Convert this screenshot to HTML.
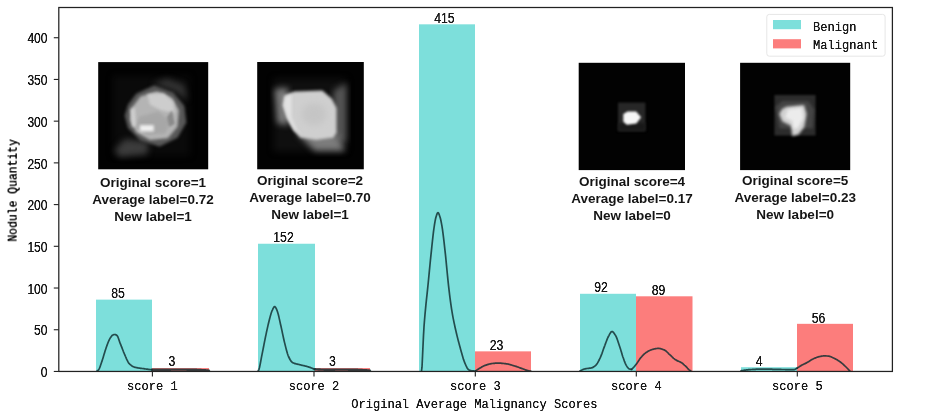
<!DOCTYPE html>
<html lang="en"><head><meta charset="utf-8"><title>Nodule Quantity by Original Average Malignancy Scores</title>
<style>html,body{margin:0;padding:0;background:#fff;overflow:hidden}svg{display:block}.m{font-family:"Liberation Mono",monospace;font-size:13.5px;fill:#1a1a1a}.d{font-family:"Liberation Sans",sans-serif;font-size:14px;fill:#1a1a1a}.c{font-family:"Liberation Sans",sans-serif;font-size:13.5px;font-weight:bold;fill:#151515;text-anchor:middle}</style></head><body>
<svg width="938" height="415" viewBox="0 0 938 415">
<defs><filter id="b1" color-interpolation-filters="sRGB" x="-30%" y="-30%" width="160%" height="160%"><feGaussianBlur stdDeviation="1.6"/></filter><filter id="b2" color-interpolation-filters="sRGB" x="-30%" y="-30%" width="160%" height="160%"><feGaussianBlur stdDeviation="3"/></filter><filter id="b3" color-interpolation-filters="sRGB" x="-30%" y="-30%" width="160%" height="160%"><feGaussianBlur stdDeviation="0.9"/></filter><filter id="fb" x="-5%" y="-25%" width="110%" height="150%" color-interpolation-filters="sRGB"><feGaussianBlur stdDeviation="0.5"/><feComponentTransfer><feFuncA type="linear" slope="2.4" intercept="-0.15"/></feComponentTransfer></filter><filter id="fd" x="-10%" y="-25%" width="120%" height="150%" color-interpolation-filters="sRGB"><feGaussianBlur stdDeviation="0.3"/><feComponentTransfer><feFuncA type="linear" slope="1.6" intercept="-0.03"/></feComponentTransfer></filter></defs>
<rect width="938" height="415" fill="#fff"/>
<rect x="96.00" y="299.63" width="56.00" height="71.82" fill="#7ddfdb"/>
<rect x="152.00" y="368.05" width="57.00" height="3.40" fill="#fc7d7c"/>
<rect x="258.00" y="243.74" width="57.00" height="127.71" fill="#7ddfdb"/>
<rect x="315.00" y="368.05" width="55.00" height="3.40" fill="#fc7d7c"/>
<rect x="419.00" y="24.32" width="56.00" height="347.13" fill="#7ddfdb"/>
<rect x="475.00" y="351.36" width="56.00" height="20.09" fill="#fc7d7c"/>
<rect x="580.00" y="293.79" width="56.00" height="77.66" fill="#7ddfdb"/>
<rect x="636.00" y="296.30" width="56.50" height="75.15" fill="#fc7d7c"/>
<rect x="741.00" y="367.21" width="56.00" height="4.24" fill="#7ddfdb"/>
<rect x="797.00" y="323.83" width="56.00" height="47.62" fill="#fc7d7c"/>
<path d="M97.0 371.0L97.5 370.8L98.0 370.4L98.5 369.9L99.0 369.1L99.5 368.1L100.0 366.9L100.5 365.5L101.0 364.0L101.5 362.5L102.0 361.1L102.5 359.6L103.0 358.0L103.5 356.3L104.0 354.6L104.5 352.9L105.0 351.2L105.5 349.7L106.0 348.2L106.5 346.8L107.0 345.4L107.5 344.0L108.0 342.7L108.5 341.5L109.0 340.3L109.5 339.3L110.0 338.4L110.5 337.6L111.0 336.9L111.5 336.2L112.0 335.6L112.5 335.3L113.0 335.0L113.5 334.8L114.0 334.6L114.5 334.5L115.0 334.5L115.5 334.6L116.0 334.9L116.5 335.1L117.0 335.5L117.5 336.2L118.0 337.2L118.5 338.5L119.0 340.0L119.5 341.5L120.0 342.9L120.5 344.1L121.0 345.4L121.5 346.7L122.0 347.9L122.5 349.2L123.0 350.5L123.5 351.8L124.0 353.0L124.5 354.2L125.0 355.3L125.5 356.5L126.0 357.6L126.5 358.8L127.0 359.9L127.5 360.9L128.0 361.9L128.5 362.7L129.0 363.4L129.5 363.9L130.0 364.4L130.5 364.8L131.0 365.2L131.5 365.6L132.0 366.0L132.5 366.3L133.0 366.6L133.5 366.8L134.0 367.0L134.5 367.2L135.0 367.3L135.5 367.4L136.0 367.5L136.5 367.7L137.0 367.7L137.5 367.8L138.0 367.9L138.5 368.0L139.0 368.1L139.5 368.1L140.0 368.2L140.5 368.3L141.0 368.3L141.5 368.4L142.0 368.5L142.5 368.5L143.0 368.6L143.5 368.7L144.0 368.7L144.5 368.8L145.0 368.9L145.5 369.0L146.0 369.0L146.5 369.1L147.0 369.2L147.5 369.2L148.0 369.3L148.5 369.4L149.0 369.4L149.5 369.5L150.0 369.6L150.5 369.6L151.0 369.7L151.5 369.7L152.0 369.8" fill="none" stroke="rgba(18,48,50,0.84)" stroke-width="1.7" stroke-linejoin="round" stroke-linecap="round"/>
<path d="M152.0 369.8L152.5 369.8L153.0 369.8L153.5 369.8L154.0 369.8L154.5 369.8L155.0 369.8L155.5 369.8L156.0 369.8L156.5 369.8L157.0 369.8L157.5 369.8L158.0 369.8L158.5 369.7L159.0 369.7L159.5 369.7L160.0 369.7L160.5 369.7L161.0 369.7L161.5 369.7L162.0 369.7L162.5 369.7L163.0 369.7L163.5 369.7L164.0 369.7L164.5 369.7L165.0 369.7L165.5 369.7L166.0 369.7L166.5 369.7L167.0 369.7L167.5 369.7L168.0 369.7L168.5 369.7L169.0 369.7L169.5 369.7L170.0 369.7L170.5 369.7L171.0 369.6L171.5 369.6L172.0 369.6L172.5 369.6L173.0 369.6L173.5 369.6L174.0 369.6L174.5 369.6L175.0 369.6L175.5 369.6L176.0 369.6L176.5 369.6L177.0 369.6L177.5 369.6L178.0 369.6L178.5 369.6L179.0 369.6L179.5 369.6L180.0 369.6L180.5 369.6L181.0 369.6L181.5 369.6L182.0 369.6L182.5 369.6L183.0 369.6L183.5 369.6L184.0 369.6L184.5 369.6L185.0 369.6L185.5 369.6L186.0 369.6L186.5 369.6L187.0 369.7L187.5 369.7L188.0 369.7L188.5 369.7L189.0 369.7L189.5 369.7L190.0 369.7L190.5 369.7L191.0 369.7L191.5 369.7L192.0 369.7L192.5 369.7L193.0 369.8L193.5 369.8L194.0 369.8L194.5 369.8L195.0 369.8L195.5 369.8L196.0 369.8L196.5 369.8L197.0 369.9L197.5 369.9L198.0 369.9L198.5 369.9L199.0 369.9L199.5 370.0L200.0 370.0L200.5 370.0L201.0 370.0L201.5 370.1L202.0 370.1L202.5 370.1L203.0 370.2L203.5 370.2L204.0 370.2L204.5 370.3L205.0 370.3L205.5 370.3L206.0 370.4L206.5 370.4L207.0 370.4L207.5 370.5L208.0 370.5L208.5 370.6L209.0 370.6" fill="none" stroke="rgba(18,48,50,0.84)" stroke-width="2.4" stroke-linejoin="round" stroke-linecap="round"/>
<path d="M258.0 371.0L258.5 370.4L259.0 369.3L259.5 367.5L260.0 365.1L260.5 362.5L261.0 359.8L261.5 357.2L262.0 354.7L262.5 352.2L263.0 349.6L263.5 347.0L264.0 344.4L264.5 341.8L265.0 339.3L265.5 336.9L266.0 334.6L266.5 332.2L267.0 329.9L267.5 327.6L268.0 325.4L268.5 323.3L269.0 321.3L269.5 319.3L270.0 317.4L270.5 315.5L271.0 313.8L271.5 312.2L272.0 310.8L272.5 309.8L273.0 308.7L273.5 307.8L274.0 307.0L274.5 306.6L275.0 306.7L275.5 307.3L276.0 308.1L276.5 309.2L277.0 310.4L277.5 311.7L278.0 313.4L278.5 315.3L279.0 317.4L279.5 319.6L280.0 321.9L280.5 324.2L281.0 326.3L281.5 328.6L282.0 330.9L282.5 333.3L283.0 335.7L283.5 338.0L284.0 340.3L284.5 342.4L285.0 344.4L285.5 346.4L286.0 348.4L286.5 350.3L287.0 352.1L287.5 353.8L288.0 355.2L288.5 356.5L289.0 357.5L289.5 358.5L290.0 359.5L290.5 360.3L291.0 361.1L291.5 361.7L292.0 362.2L292.5 362.6L293.0 362.8L293.5 363.0L294.0 363.2L294.5 363.4L295.0 363.6L295.5 363.7L296.0 363.8L296.5 364.0L297.0 364.1L297.5 364.2L298.0 364.3L298.5 364.4L299.0 364.5L299.5 364.6L300.0 364.8L300.5 364.9L301.0 365.0L301.5 365.2L302.0 365.3L302.5 365.4L303.0 365.5L303.5 365.6L304.0 365.7L304.5 365.8L305.0 366.0L305.5 366.1L306.0 366.2L306.5 366.3L307.0 366.5L307.5 366.6L308.0 366.8L308.5 366.9L309.0 367.1L309.5 367.3L310.0 367.4L310.5 367.6L311.0 367.8L311.5 368.0L312.0 368.2L312.5 368.4L313.0 368.6L313.5 368.8L314.0 369.0L314.5 369.3L314.6 369.3" fill="none" stroke="rgba(18,48,50,0.84)" stroke-width="1.7" stroke-linejoin="round" stroke-linecap="round"/>
<path d="M314.6 369.3L315.1 369.3L315.6 369.3L316.1 369.4L316.6 369.4L317.1 369.4L317.6 369.4L318.1 369.5L318.6 369.5L319.1 369.5L319.6 369.5L320.1 369.5L320.6 369.6L321.1 369.6L321.6 369.6L322.1 369.6L322.6 369.6L323.1 369.6L323.6 369.6L324.1 369.7L324.6 369.7L325.1 369.7L325.6 369.7L326.1 369.7L326.6 369.7L327.1 369.7L327.6 369.7L328.1 369.7L328.6 369.7L329.1 369.7L329.6 369.7L330.1 369.7L330.6 369.7L331.1 369.7L331.6 369.7L332.1 369.7L332.6 369.7L333.1 369.7L333.6 369.7L334.1 369.7L334.6 369.7L335.1 369.6L335.6 369.6L336.1 369.6L336.6 369.6L337.1 369.6L337.6 369.6L338.1 369.6L338.6 369.6L339.1 369.6L339.6 369.6L340.1 369.6L340.6 369.6L341.1 369.6L341.6 369.6L342.1 369.6L342.6 369.6L343.1 369.6L343.6 369.6L344.1 369.6L344.6 369.6L345.1 369.6L345.6 369.6L346.1 369.6L346.6 369.6L347.1 369.6L347.6 369.6L348.1 369.6L348.6 369.7L349.1 369.7L349.6 369.7L350.1 369.7L350.6 369.7L351.1 369.7L351.6 369.7L352.1 369.7L352.6 369.7L353.1 369.7L353.6 369.7L354.1 369.8L354.6 369.8L355.1 369.8L355.6 369.8L356.1 369.8L356.6 369.8L357.1 369.8L357.6 369.8L358.1 369.9L358.6 369.9L359.1 369.9L359.6 369.9L360.1 369.9L360.6 370.0L361.1 370.0L361.6 370.0L362.1 370.0L362.6 370.1L363.1 370.1L363.6 370.1L364.1 370.2L364.6 370.2L365.1 370.2L365.6 370.3L366.1 370.3L366.6 370.3L367.1 370.4L367.6 370.4L368.1 370.5L368.6 370.5L369.1 370.5L369.6 370.6L370.0 370.6" fill="none" stroke="rgba(18,48,50,0.84)" stroke-width="2.4" stroke-linejoin="round" stroke-linecap="round"/>
<path d="M421.5 371.0L422.0 367.2L422.5 356.8L423.0 345.9L423.5 335.4L424.0 326.8L424.5 320.2L425.0 314.4L425.5 309.1L426.0 303.9L426.5 299.2L427.0 294.6L427.5 289.9L428.0 285.0L428.5 280.0L429.0 274.8L429.5 269.6L430.0 264.5L430.5 259.4L431.0 254.6L431.5 249.8L432.0 245.0L432.5 240.3L433.0 235.8L433.5 231.6L434.0 228.0L434.5 224.7L435.0 221.6L435.5 219.0L436.0 217.0L436.5 215.4L437.0 214.0L437.5 213.0L438.0 212.6L438.5 213.0L439.0 214.1L439.5 215.5L440.0 217.0L440.5 218.8L441.0 221.0L441.5 223.6L442.0 226.4L442.5 229.6L443.0 233.3L443.5 237.4L444.0 241.7L444.5 246.1L445.0 250.6L445.5 255.2L446.0 260.2L446.5 265.3L447.0 270.5L447.5 275.7L448.0 280.7L448.5 285.4L449.0 289.7L449.5 293.8L450.0 297.8L450.5 301.6L451.0 305.2L451.5 308.6L452.0 311.7L452.5 314.6L453.0 317.3L453.5 319.9L454.0 322.3L454.5 324.7L455.0 327.0L455.5 329.2L456.0 331.4L456.5 333.5L457.0 335.6L457.5 337.6L458.0 339.6L458.5 341.5L459.0 343.4L459.5 345.3L460.0 347.1L460.5 348.9L461.0 350.7L461.5 352.5L462.0 354.3L462.5 356.1L463.0 357.8L463.5 359.4L464.0 360.8L464.5 362.2L465.0 363.3L465.5 364.5L466.0 365.7L466.5 366.7L467.0 367.7L467.5 368.5L468.0 369.2L468.5 369.6L469.0 369.9L469.5 370.2L470.0 370.4L470.5 370.6L471.0 370.7L471.5 370.8L472.0 370.8L472.5 370.9L473.0 370.9L473.5 370.9L474.0 371.0L474.5 371.0L475.0 371.0L475.5 371.0L475.6 371.0" fill="none" stroke="rgba(18,48,50,0.84)" stroke-width="1.7" stroke-linejoin="round" stroke-linecap="round"/>
<path d="M475.6 371.0L476.1 370.6L476.6 370.3L477.1 369.9L477.6 369.5L478.1 369.2L478.6 368.9L479.1 368.6L479.6 368.3L480.1 368.0L480.6 367.7L481.1 367.4L481.6 367.1L482.1 366.8L482.6 366.6L483.1 366.3L483.6 366.0L484.1 365.8L484.6 365.6L485.1 365.4L485.6 365.2L486.1 365.1L486.6 364.9L487.1 364.7L487.6 364.6L488.1 364.4L488.6 364.3L489.1 364.1L489.6 364.0L490.1 363.9L490.6 363.8L491.1 363.7L491.6 363.6L492.1 363.5L492.6 363.5L493.1 363.4L493.6 363.4L494.1 363.3L494.6 363.3L495.1 363.2L495.6 363.2L496.1 363.2L496.6 363.1L497.1 363.1L497.6 363.1L498.1 363.1L498.6 363.1L499.1 363.1L499.6 363.1L500.1 363.2L500.6 363.2L501.1 363.2L501.6 363.3L502.1 363.3L502.6 363.4L503.1 363.4L503.6 363.5L504.1 363.5L504.6 363.6L505.1 363.6L505.6 363.7L506.1 363.8L506.6 363.8L507.1 363.9L507.6 364.0L508.1 364.1L508.6 364.2L509.1 364.3L509.6 364.5L510.1 364.6L510.6 364.8L511.1 364.9L511.6 365.0L512.1 365.2L512.6 365.4L513.1 365.5L513.6 365.7L514.1 365.8L514.6 366.0L515.1 366.1L515.6 366.3L516.1 366.4L516.6 366.6L517.1 366.8L517.6 367.0L518.1 367.1L518.6 367.3L519.1 367.5L519.6 367.7L520.1 367.9L520.6 368.1L521.1 368.2L521.6 368.4L522.1 368.6L522.6 368.8L523.1 369.0L523.6 369.1L524.1 369.3L524.6 369.5L525.1 369.7L525.6 369.9L526.1 370.1L526.6 370.2L527.1 370.4L527.6 370.6L528.1 370.7L528.6 370.8L529.1 370.9L529.6 371.0L530.1 371.1L530.6 371.1L531.0 371.2" fill="none" stroke="rgba(18,48,50,0.84)" stroke-width="1.7" stroke-linejoin="round" stroke-linecap="round"/>
<path d="M579.9 371.0L580.4 370.7L580.9 370.5L581.4 370.2L581.9 370.0L582.4 369.7L582.9 369.5L583.4 369.3L583.9 369.2L584.4 369.0L584.9 368.9L585.4 368.8L585.9 368.7L586.4 368.6L586.9 368.5L587.4 368.5L587.9 368.4L588.4 368.4L588.9 368.3L589.4 368.2L589.9 368.2L590.4 368.1L590.9 368.0L591.4 367.9L591.9 367.8L592.4 367.6L592.9 367.4L593.4 367.1L593.9 366.8L594.4 366.4L594.9 366.0L595.4 365.6L595.9 365.1L596.4 364.6L596.9 363.9L597.4 363.2L597.9 362.3L598.4 361.4L598.9 360.5L599.4 359.5L599.9 358.4L600.4 357.4L600.9 356.2L601.4 354.9L601.9 353.6L602.4 352.2L602.9 350.7L603.4 349.3L603.9 347.9L604.4 346.6L604.9 345.3L605.4 343.9L605.9 342.5L606.4 341.2L606.9 339.9L607.4 338.6L607.9 337.5L608.4 336.5L608.9 335.6L609.4 334.6L609.9 333.7L610.4 332.9L610.9 332.2L611.4 331.7L611.9 331.5L612.4 331.6L612.9 331.9L613.4 332.4L613.9 333.0L614.4 333.7L614.9 334.5L615.4 335.2L615.9 336.1L616.4 337.1L616.9 338.4L617.4 339.7L617.9 341.2L618.4 342.7L618.9 344.2L619.4 345.7L619.9 347.2L620.4 348.8L620.9 350.4L621.4 352.1L621.9 353.8L622.4 355.4L622.9 357.0L623.4 358.3L623.9 359.7L624.4 361.1L624.9 362.4L625.4 363.6L625.9 364.7L626.4 365.6L626.9 366.4L627.4 367.1L627.9 367.7L628.4 368.3L628.9 368.7L629.4 369.0L629.9 369.1L630.4 369.2L630.9 369.3L631.4 369.4L631.6 369.4" fill="none" stroke="rgba(18,48,50,0.84)" stroke-width="1.7" stroke-linejoin="round" stroke-linecap="round"/>
<path d="M631.6 369.4L632.1 368.9L632.6 368.4L633.1 367.9L633.6 367.3L634.1 366.8L634.6 366.2L635.1 365.6L635.6 365.0L636.1 364.4L636.6 363.7L637.1 363.0L637.6 362.2L638.1 361.5L638.6 360.7L639.1 360.0L639.6 359.2L640.1 358.5L640.6 357.9L641.1 357.3L641.6 356.8L642.1 356.2L642.6 355.7L643.1 355.2L643.6 354.7L644.1 354.2L644.6 353.7L645.1 353.3L645.6 352.9L646.1 352.5L646.6 352.2L647.1 351.9L647.6 351.6L648.1 351.3L648.6 351.0L649.1 350.7L649.6 350.5L650.1 350.3L650.6 350.0L651.1 349.9L651.6 349.7L652.1 349.5L652.6 349.4L653.1 349.3L653.6 349.1L654.1 349.0L654.6 348.9L655.1 348.8L655.6 348.7L656.1 348.6L656.6 348.5L657.1 348.5L657.6 348.4L658.1 348.4L658.6 348.4L659.1 348.4L659.6 348.5L660.1 348.6L660.6 348.7L661.1 348.8L661.6 349.0L662.1 349.2L662.6 349.3L663.1 349.5L663.6 349.7L664.1 349.9L664.6 350.1L665.1 350.4L665.6 350.7L666.1 351.1L666.6 351.6L667.1 352.0L667.6 352.5L668.1 353.0L668.6 353.6L669.1 354.1L669.6 354.5L670.1 355.0L670.6 355.4L671.1 355.9L671.6 356.4L672.1 356.9L672.6 357.3L673.1 357.8L673.6 358.3L674.1 358.7L674.6 359.1L675.1 359.5L675.6 359.8L676.1 360.1L676.6 360.4L677.1 360.6L677.6 360.9L678.1 361.1L678.6 361.3L679.1 361.5L679.6 361.7L680.1 361.9L680.6 362.2L681.1 362.5L681.6 362.8L682.1 363.1L682.6 363.5L683.1 363.9L683.6 364.4L684.1 364.8L684.6 365.3L685.1 365.7L685.6 366.2L686.1 366.7L686.6 367.2L687.1 367.7L687.6 368.3L688.1 368.8L688.6 369.3L689.1 369.8L689.6 370.2L690.1 370.6L690.6 370.9L691.0 371.2" fill="none" stroke="rgba(18,48,50,0.84)" stroke-width="1.7" stroke-linejoin="round" stroke-linecap="round"/>
<path d="M741.0 370.8L741.5 370.7L742.0 370.6L742.5 370.5L743.0 370.5L743.5 370.4L744.0 370.3L744.5 370.2L745.0 370.2L745.5 370.1L746.0 370.0L746.5 369.9L747.0 369.9L747.5 369.8L748.0 369.8L748.5 369.7L749.0 369.7L749.5 369.6L750.0 369.6L750.5 369.6L751.0 369.5L751.5 369.5L752.0 369.5L752.5 369.4L753.0 369.4L753.5 369.4L754.0 369.3L754.5 369.3L755.0 369.3L755.5 369.3L756.0 369.2L756.5 369.2L757.0 369.2L757.5 369.2L758.0 369.2L758.5 369.1L759.0 369.1L759.5 369.1L760.0 369.1L760.5 369.1L761.0 369.1L761.5 369.1L762.0 369.1L762.5 369.1L763.0 369.1L763.5 369.1L764.0 369.1L764.5 369.1L765.0 369.1L765.5 369.1L766.0 369.1L766.5 369.1L767.0 369.1L767.5 369.2L768.0 369.2L768.5 369.2L769.0 369.2L769.5 369.2L770.0 369.2L770.5 369.2L771.0 369.2L771.5 369.2L772.0 369.2L772.5 369.3L773.0 369.3L773.5 369.3L774.0 369.3L774.5 369.3L775.0 369.3L775.5 369.3L776.0 369.3L776.5 369.3L777.0 369.4L777.5 369.4L778.0 369.4L778.5 369.4L779.0 369.4L779.5 369.4L780.0 369.4L780.5 369.4L781.0 369.4L781.5 369.5L782.0 369.5L782.5 369.5L783.0 369.5L783.5 369.5L784.0 369.5L784.5 369.5L785.0 369.5L785.5 369.6L786.0 369.6L786.5 369.6L787.0 369.6L787.5 369.6L788.0 369.6L788.5 369.6L789.0 369.6L789.5 369.7L790.0 369.7L790.5 369.7L791.0 369.7L791.5 369.7L792.0 369.7L792.5 369.7L793.0 369.7L793.5 369.7L794.0 369.7L794.5 369.5L795.0 369.3L795.5 369.1L796.0 368.8L796.5 368.5L797.0 368.2" fill="none" stroke="rgba(18,48,50,0.84)" stroke-width="1.7" stroke-linejoin="round" stroke-linecap="round"/>
<path d="M797.0 368.2L797.5 367.9L798.0 367.5L798.5 367.2L799.0 366.9L799.5 366.5L800.0 366.2L800.5 365.9L801.0 365.6L801.5 365.4L802.0 365.1L802.5 364.8L803.0 364.6L803.5 364.3L804.0 364.1L804.5 363.8L805.0 363.6L805.5 363.4L806.0 363.1L806.5 362.9L807.0 362.6L807.5 362.3L808.0 362.0L808.5 361.7L809.0 361.4L809.5 361.1L810.0 360.8L810.5 360.4L811.0 360.1L811.5 359.8L812.0 359.5L812.5 359.2L813.0 359.0L813.5 358.7L814.0 358.5L814.5 358.3L815.0 358.1L815.5 357.9L816.0 357.7L816.5 357.5L817.0 357.3L817.5 357.1L818.0 357.0L818.5 356.8L819.0 356.7L819.5 356.6L820.0 356.5L820.5 356.4L821.0 356.3L821.5 356.2L822.0 356.1L822.5 356.0L823.0 356.0L823.5 355.9L824.0 355.9L824.5 355.9L825.0 355.9L825.5 355.9L826.0 355.9L826.5 356.0L827.0 356.0L827.5 356.0L828.0 356.1L828.5 356.1L829.0 356.2L829.5 356.3L830.0 356.5L830.5 356.6L831.0 356.8L831.5 357.0L832.0 357.3L832.5 357.5L833.0 357.7L833.5 358.0L834.0 358.2L834.5 358.4L835.0 358.7L835.5 358.9L836.0 359.2L836.5 359.5L837.0 359.8L837.5 360.1L838.0 360.4L838.5 360.8L839.0 361.1L839.5 361.4L840.0 361.8L840.5 362.1L841.0 362.5L841.5 362.9L842.0 363.3L842.5 363.7L843.0 364.2L843.5 364.6L844.0 365.1L844.5 365.6L845.0 366.0L845.5 366.5L846.0 367.0L846.5 367.5L847.0 368.0L847.5 368.5L848.0 369.0L848.5 369.6L849.0 370.1L849.5 370.6L850.0 371.2" fill="none" stroke="rgba(18,48,50,0.84)" stroke-width="1.7" stroke-linejoin="round" stroke-linecap="round"/>
<rect x="58.80" y="7.50" width="833.60" height="363.95" fill="none" stroke="#222" stroke-width="1.25"/>
<line x1="53.80" y1="371.45" x2="58.80" y2="371.45" stroke="#222" stroke-width="1.1"/>
<text class="d" filter="url(#fd)" text-anchor="end" transform="translate(47.50,377.15) scale(0.86,1)">0</text>
<line x1="53.80" y1="329.74" x2="58.80" y2="329.74" stroke="#222" stroke-width="1.1"/>
<text class="d" filter="url(#fd)" text-anchor="end" transform="translate(47.50,335.44) scale(0.86,1)">50</text>
<line x1="53.80" y1="288.02" x2="58.80" y2="288.02" stroke="#222" stroke-width="1.1"/>
<text class="d" filter="url(#fd)" text-anchor="end" transform="translate(47.50,293.72) scale(0.86,1)">100</text>
<line x1="53.80" y1="246.30" x2="58.80" y2="246.30" stroke="#222" stroke-width="1.1"/>
<text class="d" filter="url(#fd)" text-anchor="end" transform="translate(47.50,252.00) scale(0.86,1)">150</text>
<line x1="53.80" y1="204.59" x2="58.80" y2="204.59" stroke="#222" stroke-width="1.1"/>
<text class="d" filter="url(#fd)" text-anchor="end" transform="translate(47.50,210.29) scale(0.86,1)">200</text>
<line x1="53.80" y1="162.87" x2="58.80" y2="162.87" stroke="#222" stroke-width="1.1"/>
<text class="d" filter="url(#fd)" text-anchor="end" transform="translate(47.50,168.57) scale(0.86,1)">250</text>
<line x1="53.80" y1="121.16" x2="58.80" y2="121.16" stroke="#222" stroke-width="1.1"/>
<text class="d" filter="url(#fd)" text-anchor="end" transform="translate(47.50,126.86) scale(0.86,1)">300</text>
<line x1="53.80" y1="79.44" x2="58.80" y2="79.44" stroke="#222" stroke-width="1.1"/>
<text class="d" filter="url(#fd)" text-anchor="end" transform="translate(47.50,85.14) scale(0.86,1)">350</text>
<line x1="53.80" y1="37.73" x2="58.80" y2="37.73" stroke="#222" stroke-width="1.1"/>
<text class="d" filter="url(#fd)" text-anchor="end" transform="translate(47.50,43.43) scale(0.86,1)">400</text>
<line x1="152.40" y1="371.45" x2="152.40" y2="376.45" stroke="#222" stroke-width="1.1"/>
<text class="m" filter="url(#fd)" text-anchor="middle" transform="translate(152.40,389.90) scale(0.895,1)">score 1</text>
<line x1="314.00" y1="371.45" x2="314.00" y2="376.45" stroke="#222" stroke-width="1.1"/>
<text class="m" filter="url(#fd)" text-anchor="middle" transform="translate(314.00,389.90) scale(0.895,1)">score 2</text>
<line x1="475.30" y1="371.45" x2="475.30" y2="376.45" stroke="#222" stroke-width="1.1"/>
<text class="m" filter="url(#fd)" text-anchor="middle" transform="translate(475.30,389.90) scale(0.895,1)">score 3</text>
<line x1="636.30" y1="371.45" x2="636.30" y2="376.45" stroke="#222" stroke-width="1.1"/>
<text class="m" filter="url(#fd)" text-anchor="middle" transform="translate(636.30,389.90) scale(0.895,1)">score 4</text>
<line x1="797.30" y1="371.45" x2="797.30" y2="376.45" stroke="#222" stroke-width="1.1"/>
<text class="m" filter="url(#fd)" text-anchor="middle" transform="translate(797.30,389.90) scale(0.895,1)">score 5</text>
<text class="m" filter="url(#fd)" text-anchor="middle" transform="translate(474.30,407.50) scale(0.895,1)">Original Average Malignancy Scores</text>
<text class="m" filter="url(#fd)" text-anchor="middle" transform="translate(16.60,190.40) rotate(-90) scale(0.845,1)">Nodule Quantity</text>
<text class="d" filter="url(#fd)" transform="translate(111.20,298.33) scale(0.875,1)">85</text>
<text class="d" filter="url(#fd)" transform="translate(168.50,365.75) scale(0.875,1)">3</text>
<text class="d" filter="url(#fd)" transform="translate(273.30,242.44) scale(0.875,1)">152</text>
<text class="d" filter="url(#fd)" transform="translate(329.00,365.75) scale(0.875,1)">3</text>
<text class="d" filter="url(#fd)" transform="translate(434.20,23.02) scale(0.875,1)">415</text>
<text class="d" filter="url(#fd)" transform="translate(489.70,350.06) scale(0.875,1)">23</text>
<text class="d" filter="url(#fd)" transform="translate(594.20,292.49) scale(0.875,1)">92</text>
<text class="d" filter="url(#fd)" transform="translate(651.70,295.00) scale(0.875,1)">89</text>
<text class="d" filter="url(#fd)" transform="translate(755.70,365.91) scale(0.875,1)">4</text>
<text class="d" filter="url(#fd)" transform="translate(811.70,322.53) scale(0.875,1)">56</text>
<rect x="766.8" y="14.4" width="118.3" height="41.8" rx="2.5" fill="rgba(255,255,255,0.8)" stroke="#e6e6e6" stroke-width="1"/>
<rect x="773" y="20" width="28" height="9.2" fill="#7ddfdb"/>
<rect x="773" y="39.2" width="28" height="9.2" fill="#fc7d7c"/>
<text class="m" filter="url(#fd)" transform="translate(813,30.6) scale(0.895,1)">Benign</text>
<text class="m" filter="url(#fd)" transform="translate(813,49.2) scale(0.895,1)">Malignant</text>
<text class="c" x="153.0" y="186.6">Original score=1</text>
<text class="c" x="153.0" y="203.7">Average label=0.72</text>
<text class="c" x="153.0" y="220.8">New label=1</text>
<text class="c" x="310.0" y="184.6">Original score=2</text>
<text class="c" x="310.0" y="201.7">Average label=0.70</text>
<text class="c" x="310.0" y="218.8">New label=1</text>
<text class="c" x="632.0" y="185.7">Original score=4</text>
<text class="c" x="632.0" y="202.8">Average label=0.17</text>
<text class="c" x="632.0" y="219.9">New label=0</text>
<text class="c" x="795.2" y="184.5">Original score=5</text>
<text class="c" x="795.2" y="201.6">Average label=0.23</text>
<text class="c" x="795.2" y="218.7">New label=0</text>
<g>
<rect x="98.2" y="62.1" width="110" height="107.2" fill="#020202"/>
<clipPath id="c1"><rect x="98.2" y="62.1" width="110" height="107.2"/></clipPath><g clip-path="url(#c1)">
<polygon points="112.9,75.9 189.8,75.9 189.8,155.6 112.9,155.6" fill="#0a0a0a" filter="url(#b2)"/>
<polygon points="114.8,150.1 124.7,139.1 148.6,141.8 147.2,154.2 119.2,157.0" fill="#3c3c3c" filter="url(#b2)"/>
<polygon points="152.7,84.1 166.5,78.6 184.3,84.9 187.1,100.6 174.7,91.0" fill="#343434" filter="url(#b2)"/>
<polygon points="128.0,104.7 136.2,93.7 154.1,85.5 173.3,92.4 184.3,106.1 186.3,122.6 177.5,137.7 159.6,146.5 140.4,140.5 128.0,128.1 124.7,115.7" fill="#585858" filter="url(#b1)"/>
<polygon points="132.1,107.5 140.4,96.5 156.8,91.5 172.0,97.9 178.8,110.2 177.5,126.7 167.8,138.3 150.0,139.9 136.2,132.2 130.2,119.8" fill="#b4b4b4" filter="url(#b1)"/>
<polygon points="147.2,94.3 163.7,93.2 173.3,102.0 174.7,113.0 161.0,110.2 150.0,104.7" fill="#cdcdcd" filter="url(#b1)"/>
<polygon points="130.2,108.9 134.9,107.5 136.2,126.7 132.1,126.7" fill="#d0d0d0" filter="url(#b1)"/>
<polygon points="139.0,117.1 158.2,111.6 170.6,121.2 165.1,133.6 147.2,135.0 136.2,128.1" fill="#a2a2a2" filter="url(#b1)" opacity="0.7"/>
<polygon points="139.8,125.1 153.8,125.1 153.8,131.4 139.8,131.4" fill="#f0f0f0" filter="url(#b1)"/>
<polygon points="167.0,117.1 172.0,110.2 174.7,124.0 169.2,126.7" fill="#8a8a8a" filter="url(#b3)"/>
</g></g>
<g>
<rect x="257.2" y="62.0" width="106.6" height="107.3" fill="#020202"/>
<clipPath id="c2"><rect x="257.2" y="62.0" width="106.6" height="107.3"/></clipPath><g clip-path="url(#c2)">
<polygon points="273.6,78.6 346.5,78.6 346.5,151.5 273.6,151.5" fill="#0f0f0f" filter="url(#b2)"/>
<polygon points="274.4,88.8 288.2,87.7 288.7,125.3 277.2,123.4" fill="#7a7a7a" filter="url(#b2)"/>
<polygon points="333.3,90.4 346.5,83.3 346.5,142.7 333.3,141.0" fill="#555555" filter="url(#b2)"/>
<polygon points="297.0,133.6 336.8,133.6 345.1,150.9 314.8,150.9" fill="#7c7c7c" filter="url(#b2)"/>
<polygon points="284.1,95.4 294.2,91.5 322.3,90.4 331.9,98.7 336.6,108.0 336.6,132.8 333.3,137.7 316.2,139.9 300.3,137.7 293.4,130.6 286.5,117.9 282.7,105.3" fill="#cfcfcf" filter="url(#b1)"/>
<polygon points="285.4,97.0 291.5,94.3 291.5,117.1 297.0,130.0 302.5,136.1 294.2,129.5 287.4,117.1 283.8,105.3" fill="#e2e2e2" filter="url(#b1)"/>
<ellipse cx="314.0" cy="114.3" rx="12.4" ry="11.0" fill="#bebebe" filter="url(#b2)" opacity="0.55"/>
</g></g>
<g>
<rect x="578.7" y="62.8" width="106.3" height="107.3" fill="#020202"/>
<polygon points="618.0,102.6 645.4,102.6 645.4,131.1 618.0,131.1" fill="#272727" filter="url(#b3)"/>
<polygon points="618.3,123.1 645.2,123.1 645.2,130.8 618.3,130.8" fill="#181818" filter="url(#b1)"/>
<polygon points="623.3,114.1 627.5,111.6 636.1,111.6 641.1,117.2 636.4,123.4 626.9,124.7 623.3,121.8" fill="#f6f6f6" filter="url(#b3)"/>
</g>
<g>
<rect x="740.1" y="62.8" width="110.1" height="107.3" fill="#020202"/>
<polygon points="774.4,95.1 815.6,95.1 815.6,135.6 774.4,135.6" fill="#2c2c2c" filter="url(#b3)"/>
<polygon points="775.8,106.7 782.3,100.9 808.4,100.9 814.2,109.6 812.7,128.4 779.5,128.4" fill="#454545" filter="url(#b1)"/>
<polygon points="786.4,106.7 804.0,105.0 806.6,113.9 804.3,126.9 798.5,134.4 792.2,135.9 791.0,125.8 782.3,121.4 779.2,113.9 782.1,108.9" fill="#d2d2d2" filter="url(#b1)"/>
<polygon points="788.1,109.6 801.9,108.1 803.3,118.3 797.5,128.4 793.2,128.4 792.5,121.1 785.2,117.5" fill="#ececec" filter="url(#b1)"/>
</g>
</svg></body></html>
